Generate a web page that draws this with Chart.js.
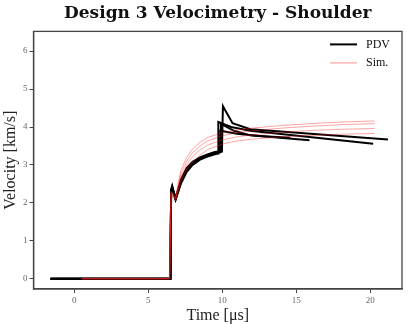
<!DOCTYPE html>
<html>
<head>
<meta charset="utf-8">
<script src="https://cdn.jsdelivr.net/npm/chart.js@4.4.0/dist/chart.umd.min.js"></script>
<style>
    html, body { margin: 0; padding: 0; background: #fff; }
    #wrap { width: 409px; height: 325px; }
</style>
</head>
<body>
<div id="wrap"><canvas id="chart"></canvas></div>
<script>
// tick labels
const xTicks = [0, 5, 10, 15, 20];
const yTicks = [0, 1, 2, 3, 4, 5, 6];

// PDV traces (time in us, velocity in km/s)
const pdvTime1 = [-1.6, 6.5, 6.55, 6.62, 6.85, 7.2, 7.6, 8.0, 8.5, 9.0, 9.5, 9.98, 10.05, 10.7, 11.9, 21.2];
const pdvVel1  = [0, 0, 2.35, 2.45, 2.1, 2.55, 2.88, 3.05, 3.18, 3.26, 3.32, 3.35, 4.55, 4.1, 3.94, 3.67];
const pdvTime2 = [-1.6, 6.5, 6.55, 6.62, 6.85, 7.2, 7.6, 8.0, 8.5, 9.0, 9.5, 9.72, 9.74, 10.6, 11.9, 20.2];
const pdvVel2  = [0, 0, 2.3, 2.4, 2.08, 2.5, 2.82, 3.0, 3.14, 3.22, 3.28, 3.3, 4.13, 4.0, 3.9, 3.56];
const pdvTime3 = [-1.6, 6.5, 6.55, 6.62, 6.85, 7.2, 7.6, 8.0, 8.5, 9.0, 9.5, 9.9, 9.92, 10.8, 11.9, 15.9];
const pdvVel3  = [0, 0, 2.32, 2.42, 2.12, 2.6, 2.92, 3.08, 3.2, 3.28, 3.34, 3.36, 4.08, 3.9, 3.78, 3.65];
const pdvTime4 = [-1.6, 6.5, 6.55, 6.62, 6.85, 7.2, 7.6, 8.0, 8.5, 9.0, 9.5, 9.85, 9.87, 11.0, 12.5, 14.6];
const pdvVel4  = [0, 0, 2.3, 2.4, 2.1, 2.52, 2.85, 3.02, 3.15, 3.24, 3.3, 3.33, 3.9, 3.82, 3.76, 3.72];

// simulation traces
const simTime = [0.5, 6.45, 6.55, 6.85, 7.2, 7.6, 8.0, 8.5, 9.0, 10, 11, 12, 14, 16, 18, 20.3];
const simVel1 = [0, 0, 2.3, 2.15, 2.85, 3.2, 3.42, 3.6, 3.72, 3.85, 3.92, 3.97, 4.04, 4.09, 4.13, 4.16];
const simVel2 = [0, 0, 2.28, 2.12, 2.76, 3.1, 3.33, 3.5, 3.63, 3.77, 3.85, 3.9, 3.97, 4.02, 4.06, 4.09];
const simVel3 = [0, 0, 2.25, 2.1, 2.68, 3.0, 3.22, 3.4, 3.52, 3.66, 3.74, 3.79, 3.86, 3.91, 3.94, 3.96];
const simVel4 = [0, 0, 2.22, 2.05, 2.58, 2.88, 3.08, 3.26, 3.4, 3.55, 3.63, 3.68, 3.74, 3.78, 3.81, 3.83];

const legendLabels = ['PDV', 'Sim.'];

const SERIF = "'DejaVu Serif', 'Liberation Serif', serif";
const TSERIF = "'Liberation Serif', 'DejaVu Serif', serif";
const PDV_COLOR = '#000000';
const SIM_COLOR = 'rgba(255, 30, 30, 0.45)';

function toPoints(ts, vs) {
    return ts.map((t, i) => ({ x: t, y: vs[i] }));
}

function pdvSet(ts, vs) {
    return { data: toPoints(ts, vs), borderColor: PDV_COLOR, borderWidth: 2, pointRadius: 0, showLine: true, fill: false };
}

function simSet(vs) {
    return { data: toPoints(simTime, vs), borderColor: SIM_COLOR, borderWidth: 0.9, pointRadius: 0, showLine: true, fill: false };
}

// frame round the plot + legend in the upper right
const framePlugin = {
    id: 'frame',
    afterDraw(chart) {
        const { ctx, chartArea: a } = chart;
        ctx.save();
        ctx.strokeStyle = '#444';
        ctx.lineWidth = 1.3;
        ctx.strokeRect(a.left, a.top, a.right - a.left, a.bottom - a.top);

        const colors = [PDV_COLOR, 'rgba(255, 30, 30, 0.55)'];
        const widths = [2, 0.9];
        const rows = [a.top + 13, a.top + 31.5];
        ctx.font = '12px ' + TSERIF;
        ctx.textBaseline = 'middle';
        ctx.fillStyle = '#111';
        legendLabels.forEach((lbl, i) => {
            ctx.beginPath();
            ctx.strokeStyle = colors[i];
            ctx.lineWidth = widths[i];
            ctx.moveTo(a.right - 72, rows[i]);
            ctx.lineTo(a.right - 45, rows[i]);
            ctx.stroke();
            ctx.fillText(lbl, a.right - 36, rows[i]);
        });
        ctx.restore();
    }
};

new Chart(document.getElementById('chart').getContext('2d'), {
    type: 'scatter',
    data: {
        datasets: [
            simSet(simVel1),
            simSet(simVel2),
            simSet(simVel3),
            simSet(simVel4),
            pdvSet(pdvTime1, pdvVel1),
            pdvSet(pdvTime2, pdvVel2),
            pdvSet(pdvTime3, pdvVel3),
            pdvSet(pdvTime4, pdvVel4)
        ]
    },
    options: {
        responsive: true,
        maintainAspectRatio: false,
        animation: false,
        layout: { padding: { left: 0, right: 7, top: 0, bottom: 0 } },
        plugins: {
            legend: { display: false },
            tooltip: { enabled: false },
            title: {
                display: true,
                text: 'Design 3 Velocimetry - Shoulder',
                fullSize: false,
                color: '#111',
                font: { family: SERIF, size: 17, weight: 'bold' },
                padding: { top: 3, bottom: 8 }
            }
        },
        scales: {
            x: {
                type: 'linear',
                min: -2.75,
                max: 22.15,
                afterBuildTicks: (s) => { s.ticks = xTicks.map(v => ({ value: v })); },
                afterFit: (s) => { s.height = 36; },
                grid: { display: true, drawOnChartArea: false, drawTicks: true, tickLength: 4, color: '#444' },
                border: { color: '#444', width: 1.3 },
                ticks: { color: '#666', font: { family: TSERIF, size: 9 }, padding: 2, maxRotation: 0 },
                title: { display: true, text: 'Time [μs]', color: '#222', font: { family: TSERIF, size: 16 }, padding: { top: 0, bottom: 0 } }
            },
            y: {
                type: 'linear',
                min: -0.27,
                max: 6.52,
                afterBuildTicks: (s) => { s.ticks = yTicks.map(v => ({ value: v })); },
                afterFit: (s) => { s.width = 33.5; },
                grid: { display: true, drawOnChartArea: false, drawTicks: true, tickLength: 4, color: '#444' },
                border: { color: '#444', width: 1.3 },
                ticks: { color: '#666', font: { family: TSERIF, size: 9 }, padding: 2 },
                title: { display: true, text: 'Velocity [km/s]', color: '#222', font: { family: TSERIF, size: 16 }, padding: { top: 1, bottom: 0 } }
            }
        }
    },
    plugins: [framePlugin]
});
</script>
</body>
</html>
